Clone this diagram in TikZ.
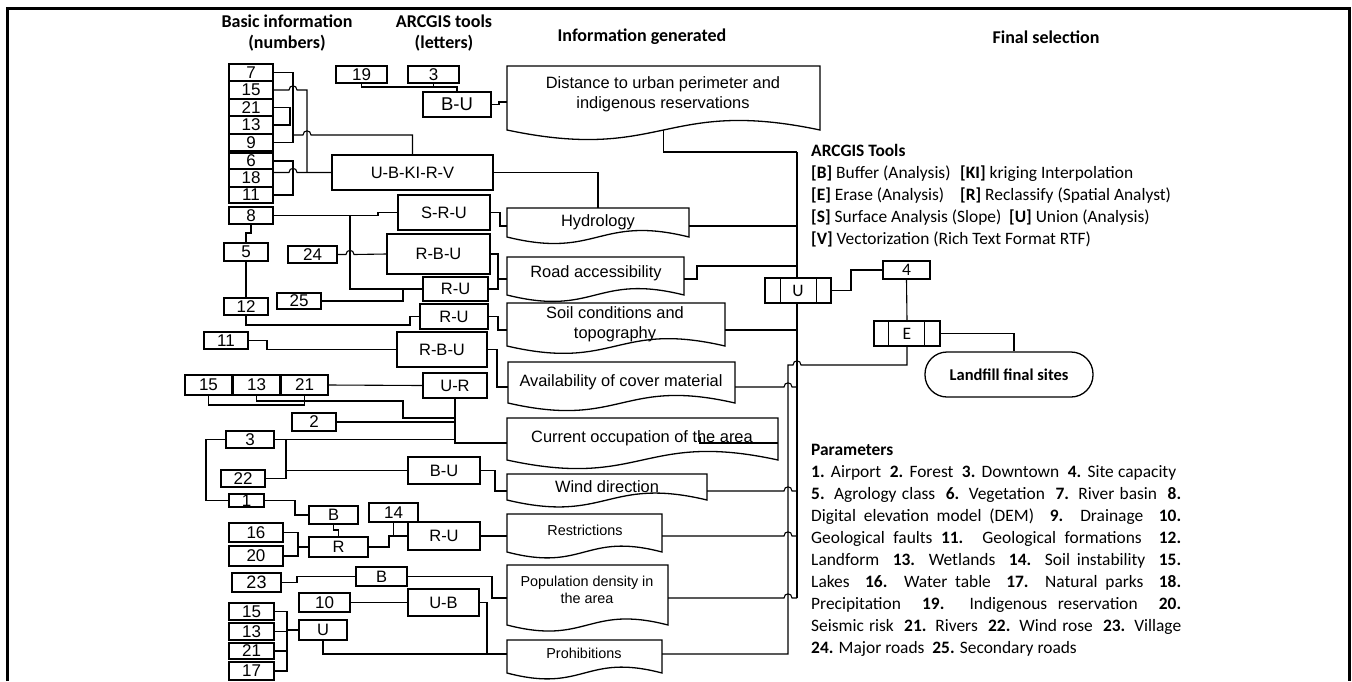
\documentclass[tikz,border=0pt]{standalone}
\usepackage{fontspec}
\setmainfont{Liberation Sans}
\newfontfamily\calib{Carlito}
\tikzset{
 conn/.style={line width=1.1pt},
 boxline/.style={line width=1.3pt},
 box/.style={draw, line width=1.3pt, fill=white, inner sep=0pt},
 num/.style={box, font=\fontsize{17}{19}\selectfont},
 tool/.style={box, font=\fontsize{16.5}{19}\selectfont},
 proc/.style={box, font=\calib\fontsize{17.5}{20}\selectfont},
 term/.style={box, rounded corners=22pt, font=\calib\bfseries\fontsize{16.5}{20}\selectfont},
 gt/.style={inner sep=0pt, align=center, font=\fontsize{16.4}{20}\selectfont},
 gts/.style={inner sep=0pt, align=center, font=\fontsize{14.4}{17}\selectfont},
 rt/.style={inner sep=0pt, anchor=base west, font=\calib\fontsize{17.4}{21.9}\selectfont},
 hd/.style={inner sep=0pt, align=center, font=\calib\bfseries\fontsize{18}{21}\selectfont},
}
\newcommand{\bx}[7][]{%
 \pgfmathsetmacro\bcx{(#3+#5)/2}%
 \pgfmathsetmacro\bcy{(#4+#6)/2}%
 \pgfmathsetmacro\bww{#5-#3}%
 \pgfmathsetmacro\bhh{#6-#4}%
 \node[box,#1,minimum width=\bww pt,minimum height=\bhh pt] (#2) at (\bcx,\bcy) {#7};%
}
\newcommand{\docshape}[5]{%
 \pgfmathsetmacro\dcx{(#2+#4)/2}%
 \pgfmathsetmacro\dcy{(#3+#5)/2}%
 \pgfmathsetmacro\dw{#4-#2}%
 \pgfmathsetmacro\dh{#5-#3}%
 \pgfmathsetmacro\dhw{(#4-#2)/2}%
 \pgfmathsetmacro\dk{0.08*(#4-#2)+8}%
 \node[inner sep=0pt, outer sep=0pt, minimum width=\dw pt, minimum height=\dh pt] (#1) at (\dcx,\dcy) {};%
 \draw[boxline, fill=white] (#1.south east) -- (#1.north east) -- (#1.north west) -- (#1.south west) .. controls +(\dhw,\dk) and +(-\dhw,-\dk) .. (#1.south east) -- cycle;%
}
\begin{document}
\begin{tikzpicture}[x=1pt,y=-1pt]
\useasboundingbox (0,0) rectangle (1352,681);
% frame
\draw[line width=3pt] (7,681) -- (7,8) -- (1349,8) -- (1349,681);

% headings
\node[hd] (h1) at (287,33) {Basic information\\(numbers)};
\node[hd] (h2) at (444,33) {ARCGIS tools\\(letters)};
\node[hd] (h3) at (642,37) {Information generated};
\node[hd] (h4) at (1046,37) {Final selection};

% information generated shapes
\docshape{gDist}{507}{66}{820}{130}
\docshape{gHyd}{507}{208}{689}{237}
\docshape{gRoad}{507}{257}{684}{295}
\docshape{gSoil}{507}{303}{725}{346}
\docshape{gAvail}{508}{362}{735}{403}
\docshape{gOcc}{507}{418}{778}{460}
\docshape{gWind}{507}{474}{707}{500}
\docshape{gRest}{507}{514}{662}{552}
\docshape{gPop}{507}{565}{668}{625}
\docshape{gProh}{507}{640}{662}{673}
\node[gt] (tDist) at (663,94) {Distance to urban perimeter and\\indigenous reservations};
\node[gt] (tHyd) at (598,222) {Hydrology};
\node[gt] (tRoad) at (596,273) {Road accessibility};
\node[gt] (tSoil) at (615,324) {Soil conditions and\\topography};
\node[gt] (tAvail) at (621,382) {Availability of cover material};
\node[gt] (tOcc) at (642,438) {Current occupation of the area};
\node[gt] (tWind) at (607,487) {Wind direction};
\node[gts] (tRest) at (585,530) {Restrictions};
\node[gts] (tPop) at (587,590) {Population density in\\the area};
\node[gts] (tProh) at (584,653) {Prohibitions};

% numbers
\bx[num]{a7}{229}{64}{273}{81}{7}
\bx[num]{a15}{229}{81}{273}{99}{15}
\bx[num]{a21}{229}{99}{273}{116}{21}
\bx[num]{a13}{229}{116}{273}{134}{13}
\bx[num]{a9}{229}{134}{273}{151}{9}
\bx[num]{a6}{229}{153}{273}{169}{6}
\bx[num]{a18}{229}{169}{273}{187}{18}
\bx[num]{a11}{229}{187}{273}{203}{11}
\bx[num]{a19}{336}{66}{387}{83}{19}
\bx[num]{a3}{408}{66}{459}{83}{3}
\bx[num]{b8}{229}{207}{273}{224}{8}
\bx[num]{b5}{224}{243}{268}{261}{5}
\bx[num]{b12}{224}{298}{268}{315}{12}
\bx[num]{b24}{288}{246}{337}{263}{24}
\bx[num]{b25}{277}{293}{321}{309}{25}
\bx[num]{b11}{204}{332}{248}{349}{11}
\bx[num]{c15}{185}{375}{232}{395}{15}
\bx[num]{c13}{233}{375}{280}{395}{13}
\bx[num]{c21}{281}{375}{328}{395}{21}
\bx[num]{c2}{292}{413}{336}{431}{2}
\bx[num]{c3}{226}{431}{274}{448}{3}
\bx[num]{c22}{221}{470}{265}{487}{22}
\bx[num]{c1}{229}{494}{264}{507}{1}
\bx[num]{c14}{369}{503}{418}{522}{14}
\bx[num]{c16}{229}{523}{283}{542}{16}
\bx[num]{c20}{229}{546}{283}{566}{20}
\bx[num,font=\fontsize{18}{20}\selectfont]{c23}{232}{573}{281}{592}{23}
\bx[num]{c10}{299}{593}{350}{612}{10}
\bx[num]{d15}{229}{603}{274}{620}{15}
\bx[num]{d13}{229}{623}{274}{640}{13}
\bx[num]{d21}{229}{643}{274}{659}{21}
\bx[num]{d17}{229}{662}{274}{680}{17}

% tools
\bx[tool,font=\fontsize{18.5}{21}\selectfont]{tBU}{423}{92}{491}{117}{B-U}
\bx[tool]{tUB}{332}{155}{493}{190}{U-B-KI-R-V}
\bx[tool]{tSRU}{398}{195}{490}{230}{S-R-U}
\bx[tool]{tRBU}{387}{234}{490}{274}{R-B-U}
\bx[tool]{tRU1}{423}{277}{488}{301}{R-U}
\bx[tool]{tRU2}{420}{304}{488}{329}{R-U}
\bx[tool]{tRBU2}{397}{332}{487}{367}{R-B-U}
\bx[tool]{tUR}{423}{373}{487}{398}{U-R}
\bx[tool]{tBU2}{408}{457}{480}{484}{B-U}
\bx[tool]{tB1}{309}{506}{358}{524}{B}
\bx[tool]{tR}{309}{537}{368}{557}{R}
\bx[tool]{tRU3}{408}{522}{480}{550}{R-U}
\bx[tool]{tB2}{356}{567}{407}{586}{B}
\bx[tool]{tUB2}{408}{589}{479}{616}{U-B}
\bx[tool]{tU}{299}{620}{347}{640}{U}

% bus coordinates
\coordinate (busTop) at (797,152);
\coordinate (busBot) at (797,598);

% connectors top
\draw[conn] (a19.south) -- (a19.south |- 0,87) -| (tBU.north);
\draw[conn] (a3.south) -- (a3.south |- 0,87);
\draw[conn] (tBU.east) -- (499,104.5) -- (499,102) -- (gDist.west |- 0,102);
\draw[conn] (a7.east) -| (293,142.5) -- (a9.east);
\draw[conn] (a21.east) -| (290,125) -- (a13.east);
\draw[conn] (293,135) -- (303,135) .. controls (303,129.5) and (311,129.5) .. (311,135) -| (tUB.north);
\draw[conn] (a15.east) -- (289,90) .. controls (289,84.5) and (297,84.5) .. (297,90) -- (307,90) -- (307,172.5);
\draw[conn] (a18.east |- 0,172.5) -- (289,172.5) .. controls (289,167) and (297,167) .. (297,172.5) -- (tUB.west);
\draw[conn] (a6.east) -| (293,195) -- (a11.east);
\draw[conn] (tUB.east) -| (gHyd.north);

% group 2
\draw[conn] (b8.east) -- (378,215.5) -- (378,212.5) -- (tSRU.west);
\draw[conn] (350,215.5) |- (tRU1.west);
\draw[conn] (b25.east) -| (403,289);
\draw[conn] (b24.east) -- (346,254.5) .. controls (346,249) and (354,249) .. (354,254.5) -- (tRBU.west);
\draw[conn] (b8.south) -- (251,233) -- (246,233) -- (b5.north);
\draw[conn] (b5.south) -- (b12.north);
\draw[conn] (b12.south) -- (246,325) -- (410,325) -- (410,316.5) -- (tRU2.west);
\draw[conn] (b11.east) -- (267,340.5) -- (267,349.5) -- (tRBU2.west);

% tools to information
\draw[conn] (tSRU.east) -- (500,212.5) -- (500,226) -- (gHyd.west |- 0,226);
\draw[conn] (tRBU.east) -- (498,254) -- (498,279) -- (gRoad.west |- 0,279);
\draw[conn] (tRU1.east) -| (498,279);
\draw[conn] (tRU2.east) -- (498,316.5) -- (498,330) -- (gSoil.west |- 0,330);
\draw[conn] (tRBU2.east) -- (497,349.5) -- (497,387) -- (gAvail.west |- 0,387);

% U-R region
\draw[conn] (c21.east) -- (tUR.west);
\draw[conn] (c15.south) -- (208.5,405) -| (c21.south);
\draw[conn] (c13.south) -- (256.5,401) -- (403,401) -- (403,418) -- (455,418);
\draw[conn] (tUR.south) -- (455,443) -- (gOcc.west |- 0,443);
\draw[conn] (c2.east) -- (455,422);
\draw[conn] (c3.east) -- (455,439.5);
\draw[conn] (286,439.5) |- (tBU2.west);
\draw[conn] (c22.east) -| (286,470.5);
\draw[conn] (c3.west) -- (206,439.5) |- (c1.west);
\draw[conn] (tBU2.east) -- (495,470.5) -- (495,491) -- (gWind.west |- 0,491);
\draw[conn] (c1.east) -- (295,500.5) |- (tB1.west);
\draw[conn] (tB1.south) -- (333.5,530) -- (338.5,530) -- (tR.north);
\draw[conn] (c16.east) -| (298,556) -- (c20.east);
\draw[conn] (298,547) -- (tR.west);
\draw[conn] (tR.east) -- (389,547) -- (389,536) -- (tRU3.west);
\draw[conn] (c14.south) -- (c14.south |- 0,536);
\draw[conn] (tRU3.east) -- (gRest.west |- 0,536);
\draw[conn] (c23.east) -- (297,582.5) -- (297,576.5) -- (tB2.west);
\draw[conn] (tB2.east) -- (492,576.5) -- (492,598) -- (gPop.west |- 0,598);
\draw[conn] (c10.east) -- (tUB2.west);
\draw[conn] (tUB2.east) -- (487,602.5) -- (487,654) -- (gProh.west |- 0,654);
\draw[conn] (tU.south) -- (323,654) -- (487,654);
\draw[conn] (d15.east) -| (287,671) -- (d17.east);
\draw[conn] (d13.east) -- (287,631.5);
\draw[conn] (d21.east) -- (287,651);
\draw[conn] (287,630) -- (tU.west);

% information to bus
\draw[conn] (gDist.south) -- (gDist.south |- 0,152) -- (busTop);
\draw[conn] (busTop) -- (busBot);
\draw[conn] (gHyd.east |- 0,226) -- (busTop |- 0,226);
\draw[conn] (gRoad.east |- 0,279) -- (697,279) -- (697,266) -- (busTop |- 0,266);
\draw[conn] (gSoil.east |- 0,330) -- (busTop |- 0,330);
\draw[conn] (gAvail.east |- 0,387) -- (784,387) .. controls (784,381.5) and (792,381.5) .. (792,387) -- (busTop |- 0,387);
\draw[conn] (gWind.east |- 0,491) -- (784,491) .. controls (784,485.5) and (792,485.5) .. (792,491) -- (busTop |- 0,491);
\draw[conn] (gRest.east |- 0,536) -- (784,536) .. controls (784,530.5) and (792,530.5) .. (792,536) -- (busTop |- 0,536);
\draw[conn] (gPop.east |- 0,598) -- (784,598) .. controls (784,592.5) and (792,592.5) .. (792,598) -- (busBot);
\draw[conn] (700,437) -- (700,443) -- (gOcc.east |- 0,443);

% final selection
\bx[proc]{pU}{765}{278}{831}{303}{U}
\bx[proc]{p4}{883}{261}{930}{279}{4}
\bx[proc]{pE}{874}{321}{940}{346}{E}
\bx[term]{land}{925}{352}{1093}{397}{Landfill final sites}
\draw[boxline] ([xshift=16pt]pU.north west) -- ([xshift=16pt]pU.south west);
\draw[boxline] ([xshift=-15pt]pU.north east) -- ([xshift=-15pt]pU.south east);
\draw[boxline] ([xshift=15pt]pE.north west) -- ([xshift=15pt]pE.south west);
\draw[boxline] ([xshift=-16pt]pE.north east) -- ([xshift=-16pt]pE.south east);
\draw[conn] (pU.east) -- (851,290.5) -- (851,270) -- (p4.west);
\draw[conn] (p4.south) -- (pE.north);
\draw[conn] (pE.east) -| (land.north -| 1014,0);
\draw[conn] (gProh.east |- 0,654) -- (788,654) -- (788,365) -- (793,365) .. controls (793,359.5) and (801,359.5) .. (801,365) -- (pE.south |- 0,365) -- (pE.south);

% ARCGIS tools legend
\node[rt] (arcT) at (811,156) {\textbf{ARCGIS Tools}};
\node[rt] (arcB) at (811,178) {\textbf{[B]} Buffer (Analysis)};
\node[rt] (arcKI) at (960,178) {\textbf{[KI]} kriging Interpolation};
\node[rt] (arcE) at (811,200) {\textbf{[E]} Erase (Analysis)};
\node[rt] (arcR) at (960,200) {\textbf{[R]} Reclassify (Spatial Analyst)};
\node[rt] (arcS) at (811,222) {\textbf{[S]} Surface Analysis (Slope)};
\node[rt] (arcU) at (1009,222) {\textbf{[U]} Union (Analysis)};
\node[rt] (arcV) at (811,244) {\textbf{[V]} Vectorization (Rich Text Format RTF)};

% parameters legend
\node[rt] (parT) at (811,455) {\textbf{Parameters}};
\node[rt] (par1) at (811,477) {\makebox[365pt][s]{\textbf{1.} Airport \ \textbf{2.} Forest \ \textbf{3.} Downtown \ \textbf{4.} Site capacity}};
\node[rt] (par2) at (811,499) {\makebox[370pt][s]{\textbf{5.} Agrology class \ \textbf{6.} Vegetation \ \textbf{7.} River basin \ \textbf{8.}}};
\node[rt] (par3) at (811,521) {\makebox[370pt][s]{Digital elevation model (DEM) \ \textbf{9.} Drainage \ \textbf{10.}}};
\node[rt] (par4) at (811,543) {\makebox[370pt][s]{Geological faults \textbf{11.} Geological formations \ \textbf{12.}}};
\node[rt] (par5) at (811,565) {\makebox[370pt][s]{Landform \ \textbf{13.} Wetlands \ \textbf{14.} Soil instability \ \textbf{15.}}};
\node[rt] (par6) at (811,587) {\makebox[370pt][s]{Lakes \ \textbf{16.} Water table \ \textbf{17.} Natural parks \ \textbf{18.}}};
\node[rt] (par7) at (811,609) {\makebox[370pt][s]{Precipitation \ \textbf{19.} Indigenous reservation \ \textbf{20.}}};
\node[rt] (par8) at (811,631) {\makebox[370pt][s]{Seismic risk \ \textbf{21.} Rivers \ \textbf{22.} Wind rose \ \textbf{23.} Village}};
\node[rt] (par9) at (811,653) {\textbf{24.} Major roads \ \textbf{25.} Secondary roads};
\end{tikzpicture}
\end{document}
